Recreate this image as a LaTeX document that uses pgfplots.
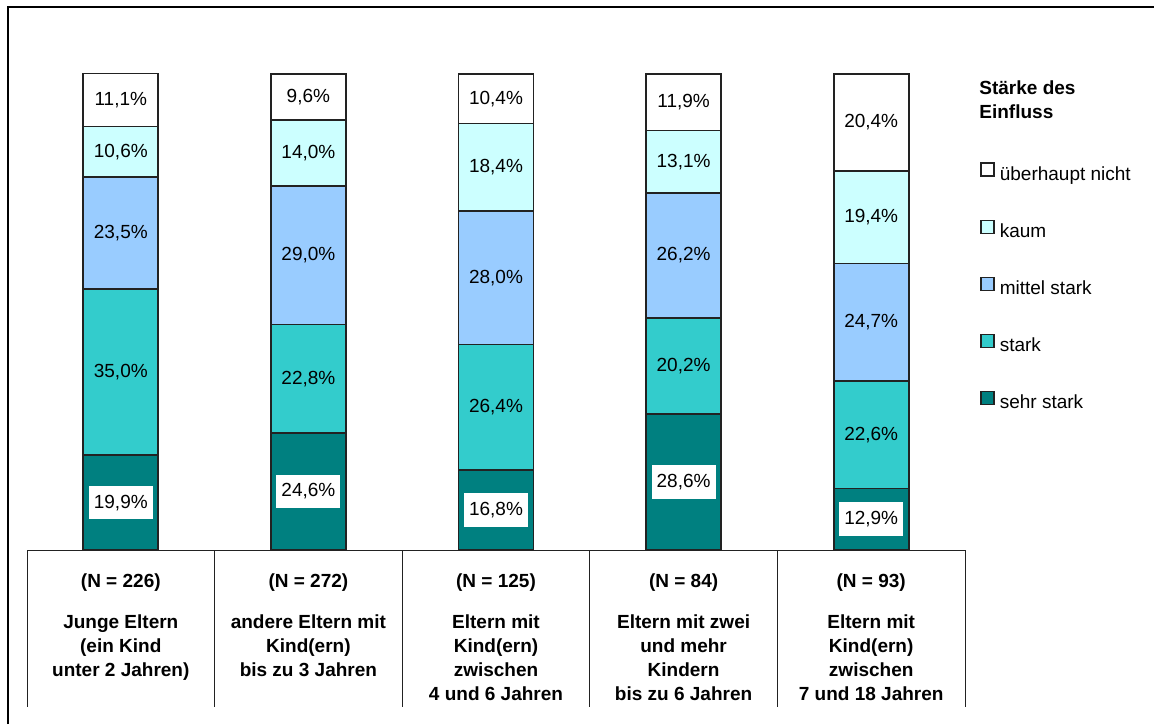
\documentclass[border=0pt]{standalone}
\usepackage{pgfplots}
\pgfplotsset{compat=1.18}
\usepackage{pgfplotstable}
\usepackage{fontspec}
\setmainfont{Liberation Sans}
\definecolor{csehr}{HTML}{008080}
\definecolor{cstark}{HTML}{33CCCC}
\definecolor{cmittel}{HTML}{99CCFF}
\definecolor{ckaum}{HTML}{CCFFFF}
\definecolor{cnicht}{HTML}{FFFFFF}
\definecolor{edge}{HTML}{222222}
\pgfplotstableread{
x sehr stark mittel kaum nicht
0 19.9 35.0 23.5 10.6 11.1
1 24.6 22.8 29.0 14.0 9.6
2 16.8 26.4 28.0 18.4 10.4
3 28.6 20.2 26.2 13.1 11.9
4 12.9 22.6 24.7 19.4 20.4
}\data
\newcommand\lblfont{\fontsize{9.5}{12}\selectfont}
\pgfplotsset{
  /pgf/number format/assume math mode=true,
  lab/.style={
    point meta=\thisrow{#1},
    nodes near coords={\pgfmathprintnumber[fixed,fixed zerofill,precision=1,use comma]{\pgfplotspointmeta}\%},
    every node near coord/.append style={anchor=center, text=black, font=\lblfont},
  },
}
\begin{document}
\begin{tikzpicture}
\useasboundingbox (0pt,0pt) rectangle (577pt,362pt);
\draw[line width=1pt] (3.75pt,0pt) -- (3.75pt,358.5pt) -- (577pt,358.5pt);
\begin{axis}[
  at={(13.5pt,87pt)}, anchor=south west,
  scale only axis, width=469pt, height=238pt,
  xmin=-0.5, xmax=4.5, ymin=0, ymax=100,
  ybar stacked, bar width=0.4,
  clip=false,
  axis line style={draw=none},
  major tick length=0pt,
  ytick=\empty,
  xtick={0,1,2,3,4},
  xticklabels={
    {(N = 226)\\[8.5pt]Junge Eltern\\(ein Kind\\unter 2 Jahren)},
    {(N = 272)\\[8.5pt]andere Eltern mit\\Kind(ern)\\bis zu 3 Jahren},
    {(N = 125)\\[8.5pt]Eltern mit\\Kind(ern)\\zwischen\\4 und 6 Jahren},
    {(N = 84)\\[8.5pt]Eltern mit zwei\\und mehr\\Kindern\\bis zu 6 Jahren},
    {(N = 93)\\[8.5pt]Eltern mit\\Kind(ern)\\zwischen\\7 und 18 Jahren}},
  xticklabel style={align=center, anchor=north, inner sep=0pt, yshift=-11.5pt,
    font=\lblfont\bfseries},
  every axis plot/.append style={draw=edge, line width=0.85pt},
  legend image code/.code={\draw[#1,draw=edge,line width=0.7pt] (0pt,-0.3pt) rectangle (6.5pt,6.2pt);},
  reverse legend,
  legend cell align=left,
  legend style={at={(1.016,0.815)}, anchor=north west, draw=none, fill=none,
    inner sep=0pt, row sep=16.5pt, font=\lblfont,
    nodes={text height=7pt, text depth=2pt, inner sep=1pt},
    /tikz/every odd column/.append style={column sep=1.5pt}},
]
\addplot[fill=csehr, lab=sehr,
  every node near coord/.append style={fill=white, inner xsep=2.5pt, inner ysep=4.5pt}]
  table[x=x, y=sehr] {\data};
\addplot[fill=cstark, lab=stark] table[x=x, y=stark] {\data};
\addplot[fill=cmittel, lab=mittel] table[x=x, y=mittel] {\data};
\addplot[fill=ckaum, lab=kaum] table[x=x, y=kaum] {\data};
\addplot[fill=cnicht, lab=nicht] table[x=x, y=nicht] {\data};
\legend{sehr stark, stark, mittel stark, kaum, überhaupt nicht}
\draw[line width=0.5pt, draw=edge] (axis cs:-0.5,0) -- (axis cs:4.5,0);
\draw[line width=0.5pt, draw=edge] (axis cs:-0.5,0) -- (axis cs:-0.5,-32.98);
\draw[line width=0.5pt, draw=edge] (axis cs:0.5,0) -- (axis cs:0.5,-32.98);
\draw[line width=0.5pt, draw=edge] (axis cs:1.5,0) -- (axis cs:1.5,-32.98);
\draw[line width=0.5pt, draw=edge] (axis cs:2.5,0) -- (axis cs:2.5,-32.98);
\draw[line width=0.5pt, draw=edge] (axis cs:3.5,0) -- (axis cs:3.5,-32.98);
\draw[line width=0.5pt, draw=edge] (axis cs:4.5,0) -- (axis cs:4.5,-32.98);
\end{axis}
\node[anchor=base west, font=\lblfont\bfseries, inner sep=0pt] at (489.5pt,314.5pt) {Stärke des};
\node[anchor=base west, font=\lblfont\bfseries, inner sep=0pt] at (489.5pt,302.5pt) {Einfluss};
\end{tikzpicture}
\end{document}
